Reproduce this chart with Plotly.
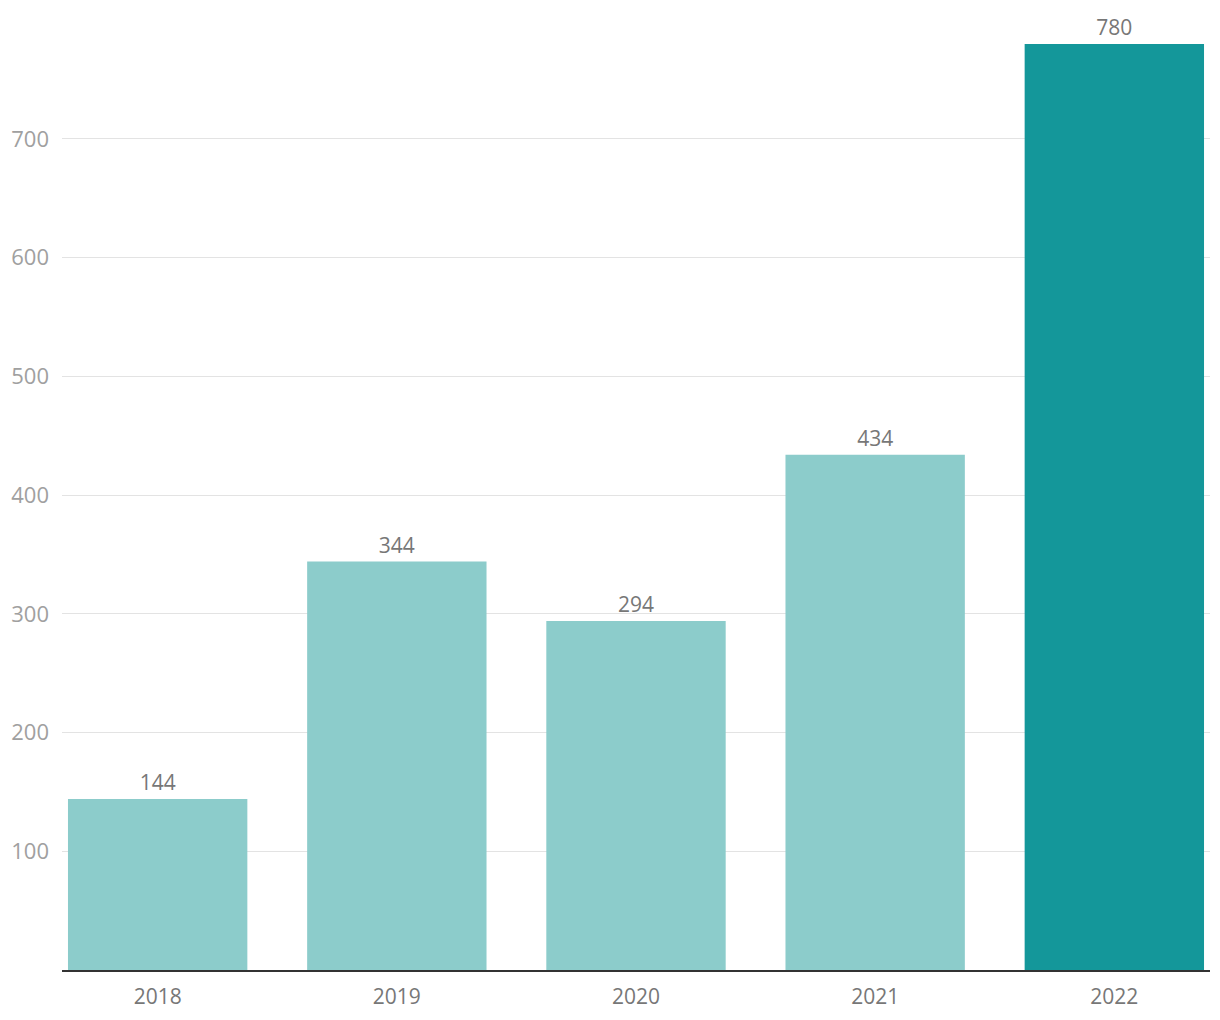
import plotly.graph_objects as go

years = ["2018", "2019", "2020", "2021", "2022"]
values = [144, 344, 294, 434, 780]
bar_colors = ["#8ccccb", "#8ccccb", "#8ccccb", "#8ccccb", "#14979a"]
y_ticks = [100, 200, 300, 400, 500, 600, 700]

fig = go.Figure(
    go.Bar(
        x=list(range(len(years))),
        y=values,
        marker=dict(color=bar_colors, line=dict(width=0)),
        width=0.75,
        text=[str(v) for v in values],
        textposition="outside",
        textfont=dict(family="Open Sans", size=21, color="#777777"),
        cliponaxis=False,
        hoverinfo="skip",
    )
)

fig.update_xaxes(
    range=[-0.4, 4.4],
    tickmode="array",
    tickvals=list(range(len(years))),
    ticktext=years,
    showgrid=False,
    showline=True,
    linecolor="#333333",
    linewidth=2,
    ticks="",
    ticklabelstandoff=7,
    tickfont=dict(family="Open Sans", size=21, color="#777777"),
    zeroline=False,
)
fig.update_yaxes(
    range=[0, 780],
    tickmode="array",
    tickvals=y_ticks,
    showgrid=True,
    gridcolor="#e3e3e3",
    gridwidth=1,
    zeroline=False,
    showline=False,
    ticks="",
    ticklabelstandoff=12,
    tickfont=dict(family="Open Sans", size=22, color="#a0a0a0"),
)
fig.update_layout(
    width=1204,
    height=1004,
    plot_bgcolor="white",
    paper_bgcolor="white",
    showlegend=False,
    margin=dict(l=54, r=2, t=36, b=36),
)

fig.write_html("out.html")
